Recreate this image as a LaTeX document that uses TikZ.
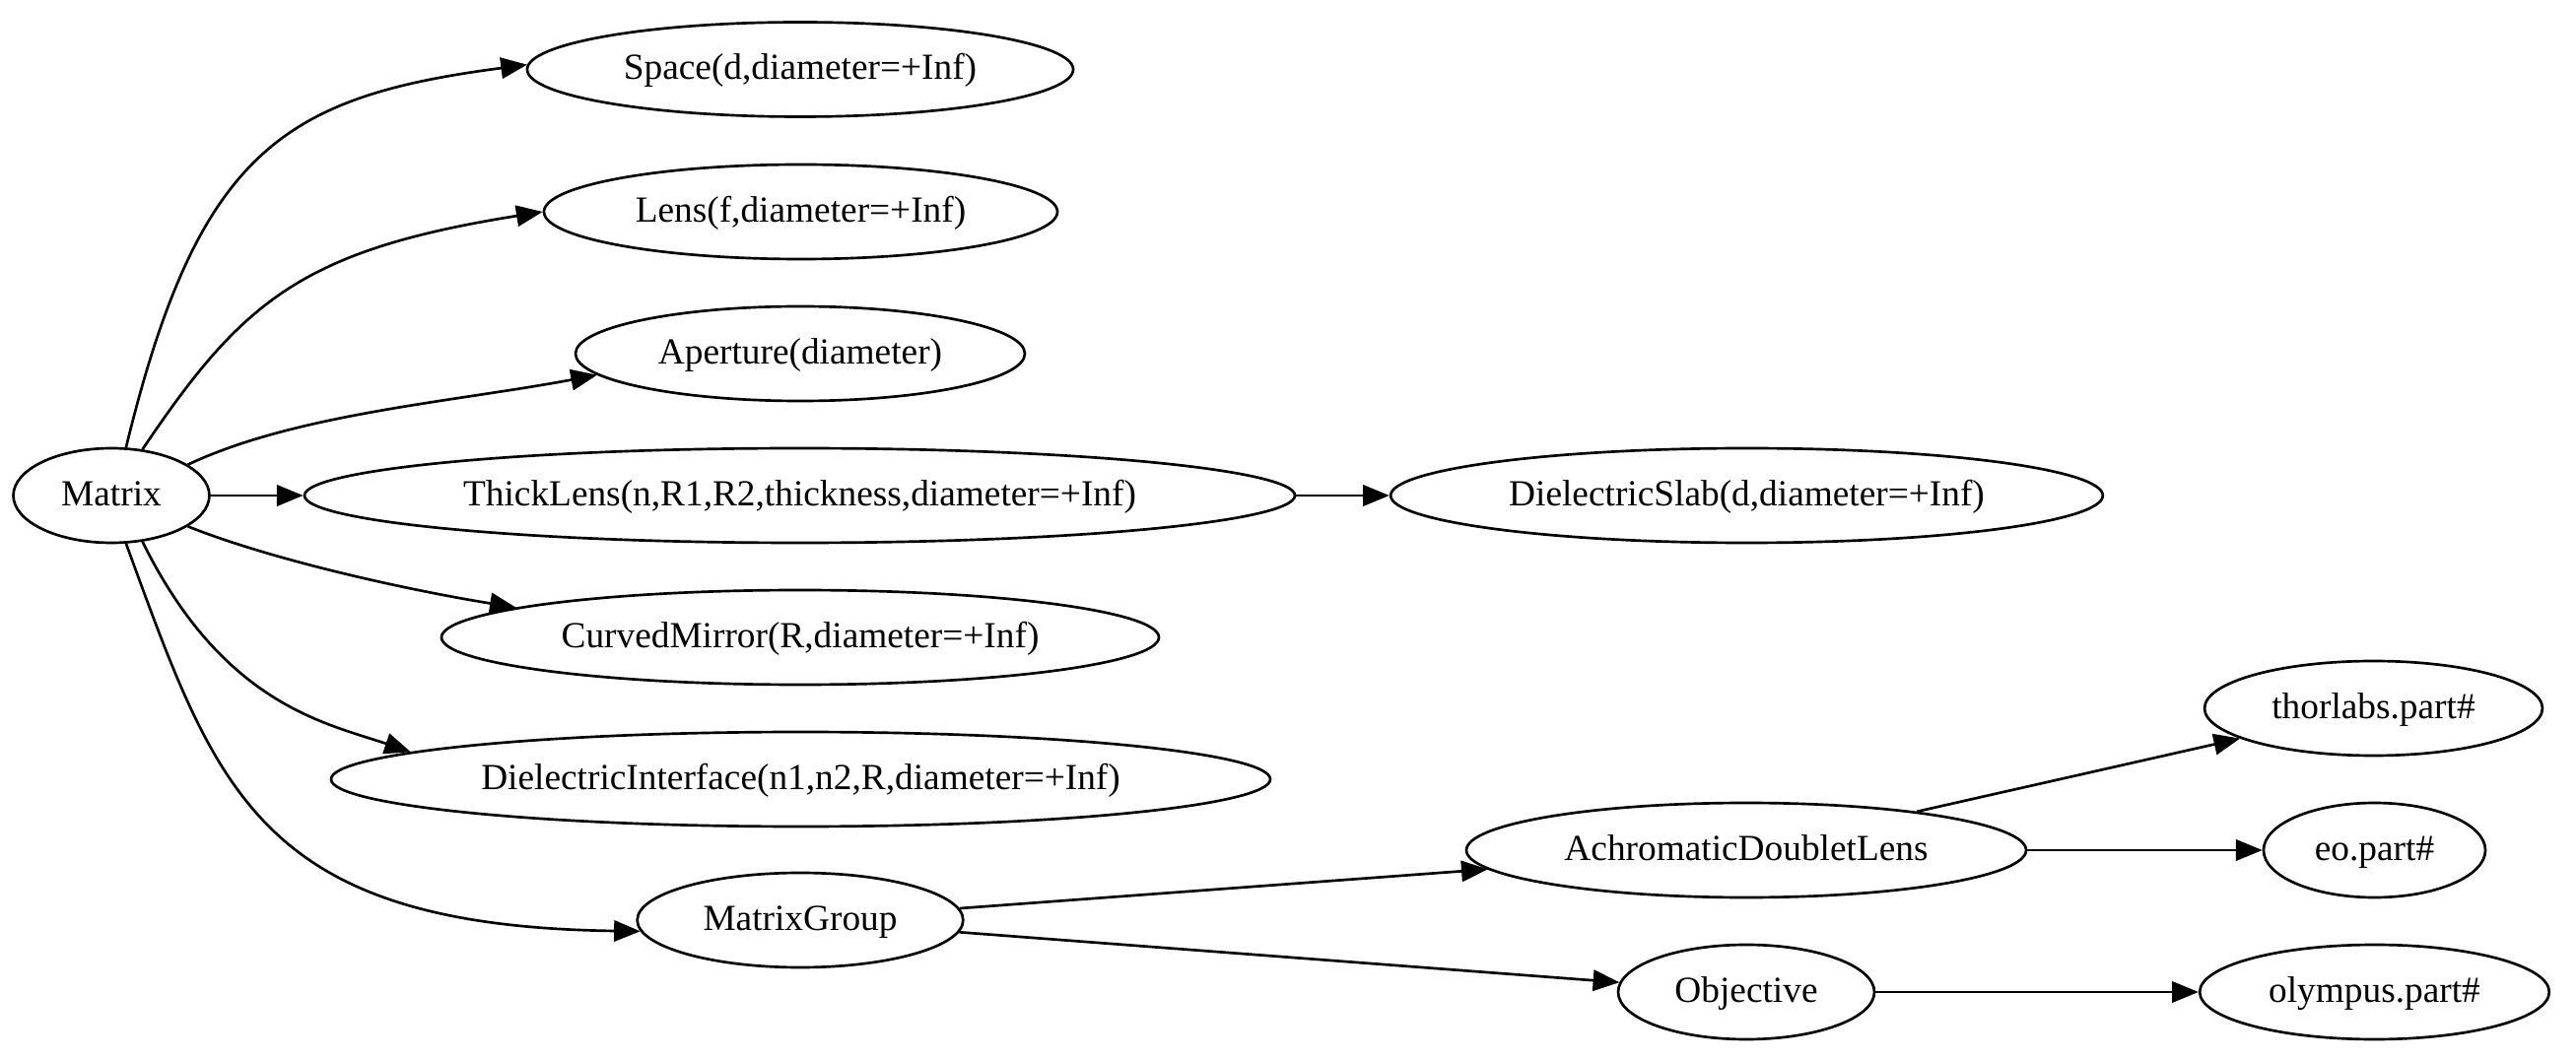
\documentclass[tikz,border=0pt]{standalone}
\usepackage{fontspec}
\setmainfont{Liberation Serif}
\usetikzlibrary{shapes.geometric,arrows.meta}
\begin{document}
\begin{tikzpicture}[x=0.375pt,y=-0.375pt,
  nd/.style={draw,line width=1pt,ellipse,inner sep=0pt,minimum height=36pt,
    font=\fontsize{14pt}{16pt}\selectfont,text height=11pt,text depth=3.2pt},
  ed/.style={line width=1pt,-{Triangle[length=10pt,width=8pt]}}]
\useasboundingbox (0,0) rectangle (2614,1076);
% nodes
\node[nd,minimum width=74.6pt]  (m)   at (113,503)  {Matrix};
\node[nd,minimum width=207.8pt] (sp)  at (812,70.5) {Space(d,diameter=+Inf)};
\node[nd,minimum width=195.4pt] (ln)  at (812.5,215) {Lens(f,diameter=+Inf)};
\node[nd,minimum width=171pt]   (ap)  at (812,359)  {Aperture(diameter)};
\node[nd,minimum width=376.9pt] (tl)  at (811.5,503) {ThickLens(n,R1,R2,thickness,diameter=+Inf)};
\node[nd,minimum width=273pt]   (cm)  at (812,647)  {CurvedMirror(R,diameter=+Inf)};
\node[nd,minimum width=357.4pt] (di)  at (812.5,791) {DielectricInterface(n1,n2,R,diameter=+Inf)};
\node[nd,minimum width=124pt]   (mg)  at (812,934)  {MatrixGroup};
\node[nd,minimum width=271pt]   (ds)  at (1772.5,503) {DielectricSlab(d,diameter=+Inf)};
\node[nd,minimum width=213pt]   (adl) at (1772,863) {AchromaticDoubletLens};
\node[nd,minimum width=97.5pt]  (obj) at (1772,1007) {Objective};
\node[nd,minimum width=128.6pt] (tho) at (2408.5,719) {thorlabs.part\#};
\node[nd,minimum width=84.4pt]  (eo)  at (2409.5,863) {eo.part\#};
\node[nd,minimum width=133pt]   (oly) at (2409.5,1007) {olympus.part\#};
% edges
\draw[ed] (m.73)  .. controls (201,153) and (288,98) .. (sp.179);
\draw[ed] (m.56)  .. controls (245,307) and (305,254) .. (ln.180);
\draw[ed] (m.22)  .. controls (300,420) and (460,408) .. (ap.186);
\draw[ed] (m) -- (tl);
\draw[ed] (m.338) .. controls (280,570) and (420,600) .. (cm.174);
\draw[ed] (m.304) .. controls (226,715) and (330,734) .. (di.176);
\draw[ed] (m.287) .. controls (219.5,801.6) and (261,940) .. (mg.184);
\draw[ed] (tl) -- (ds);
\draw[ed] (mg) -- (adl);
\draw[ed] (mg) -- (obj);
\draw[ed] (adl) -- (tho);
\draw[ed] (adl) -- (eo);
\draw[ed] (obj) -- (oly);
\end{tikzpicture}
\end{document}
